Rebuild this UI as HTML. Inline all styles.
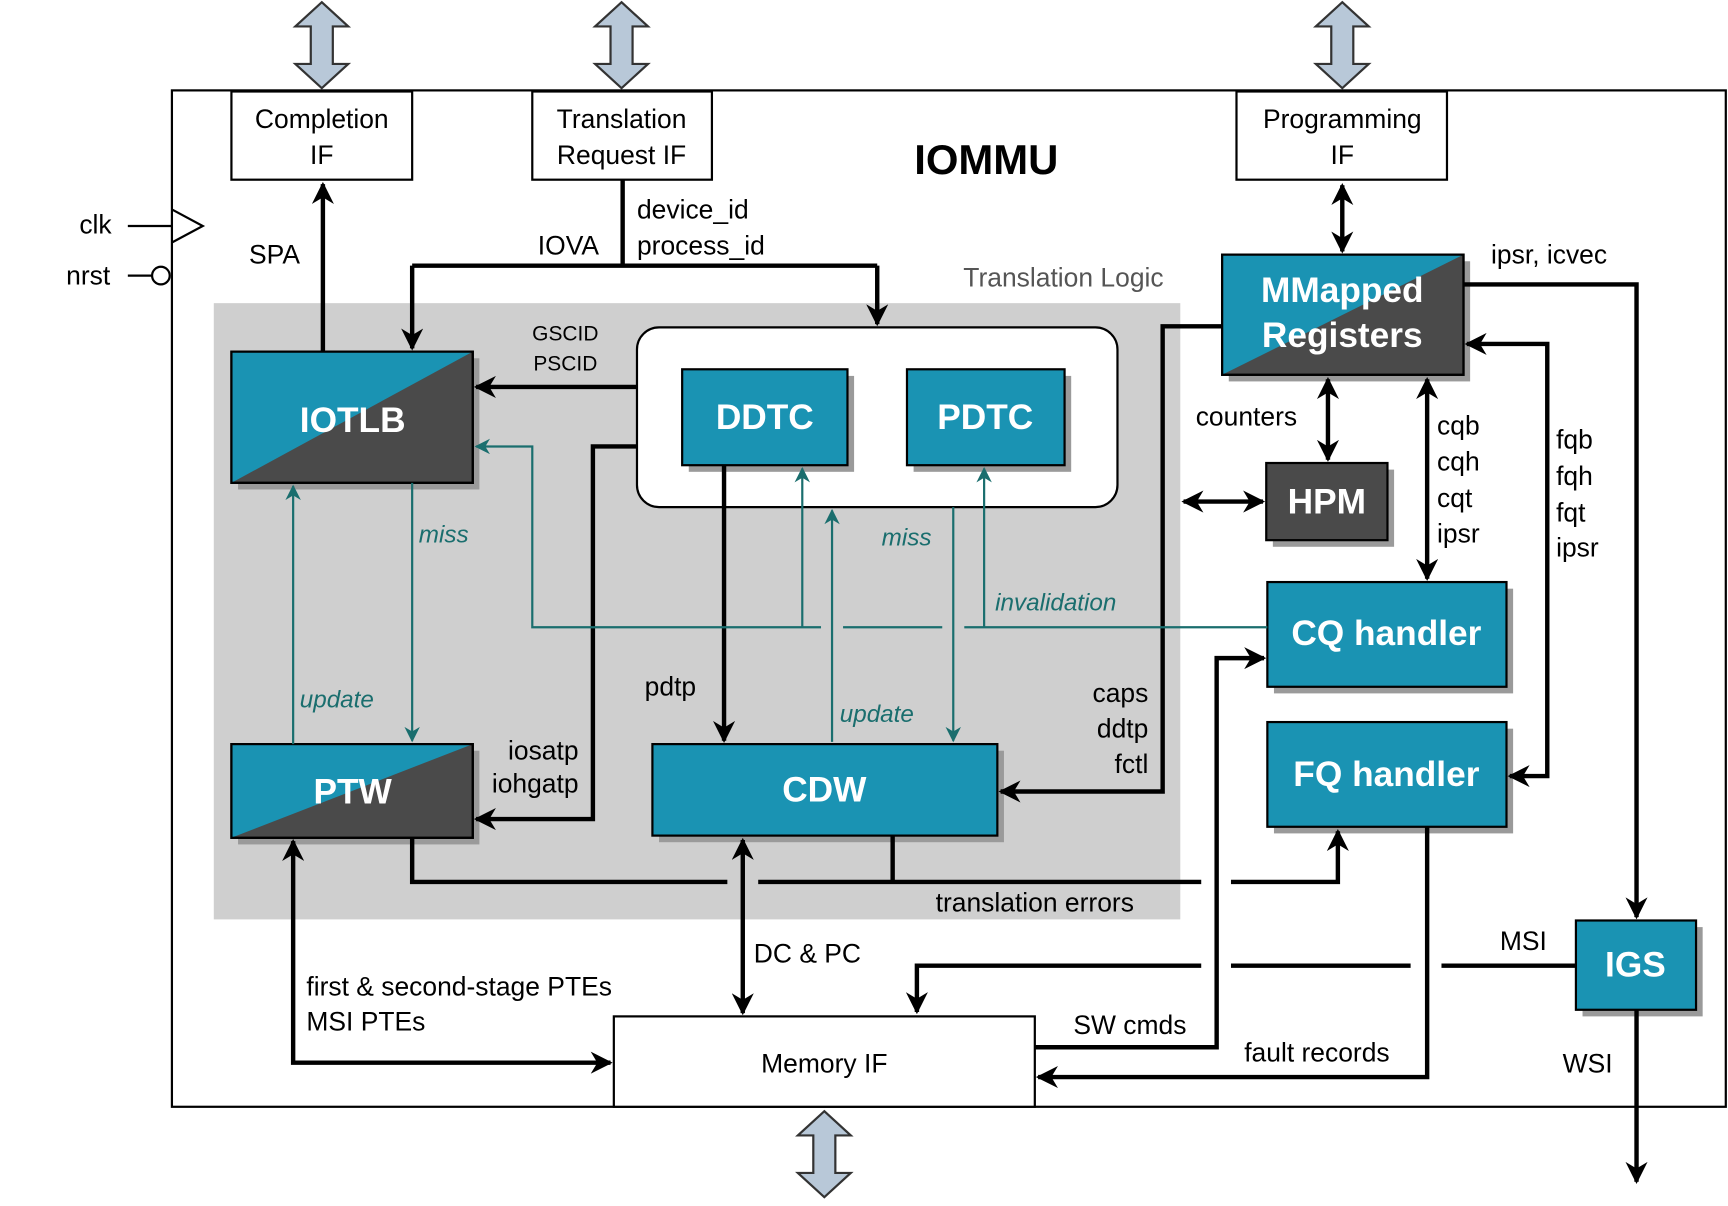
<!DOCTYPE html>
<html><head><meta charset="utf-8"><style>
html,body{margin:0;padding:0;background:#fff;}
svg{display:block;}
text{font-family:"Liberation Sans",sans-serif;}
</style></head><body>
<svg width="1728" height="1206" viewBox="0 0 1568 1094" preserveAspectRatio="none" xmlns="http://www.w3.org/2000/svg">
<defs>
<marker id="ab" viewBox="0 0 10 10" refX="9" refY="5" markerWidth="5" markerHeight="5" orient="auto-start-reverse"><path d="M0,0 L10,5 L0,10 L3,5 z" fill="#000"/></marker>
<marker id="at" viewBox="0 0 10 10" refX="9" refY="5" markerWidth="7" markerHeight="7" orient="auto-start-reverse"><path d="M0,0 L10,5 L0,10 L3,5 z" fill="#1a6e6e"/></marker>
</defs>
<!-- outer -->
<rect x="156" y="82" width="1410" height="922" fill="#fff" stroke="#000" stroke-width="2"/>
<rect x="194" y="275" width="877" height="559" fill="#cfcfcf"/>
<text x="965" y="260" font-size="24" fill="#555" text-anchor="middle">Translation Logic</text>
<text x="895" y="158" font-size="38" font-weight="bold" text-anchor="middle">IOMMU</text>

<!-- big double arrows -->
<g fill="#b8c8d8" stroke="#333" stroke-width="2">
<path d="M292,2 L316,24 L302,24 L302,58 L316,58 L292,80 L268,58 L282,58 L282,24 L268,24 Z"/>
<path d="M564,2 L588,24 L574,24 L574,58 L588,58 L564,80 L540,58 L554,58 L554,24 L540,24 Z"/>
<path d="M1218,2 L1242,24 L1228,24 L1228,58 L1242,58 L1218,80 L1194,58 L1208,58 L1208,24 L1194,24 Z"/>
<path d="M748,1008 L772,1030 L758,1030 L758,1064 L772,1064 L748,1086 L724,1064 L738,1064 L738,1030 L724,1030 Z"/>
</g>

<!-- IF boxes -->
<g fill="#fff" stroke="#000" stroke-width="2">
<rect x="210" y="83" width="164" height="80"/>
<rect x="483" y="83" width="163" height="80"/>
<rect x="1122" y="83" width="191" height="80"/>
<rect x="557" y="922" width="382" height="82"/>
</g>
<g font-size="24" text-anchor="middle">
<text x="292" y="116">Completion</text><text x="292" y="149">IF</text>
<text x="564" y="116">Translation</text><text x="564" y="149">Request IF</text>
<text x="1218" y="116">Programming</text><text x="1218" y="149">IF</text>
<text x="748" y="973">Memory IF</text>
</g>

<!-- clk nrst -->
<text x="72" y="212" font-size="24">clk</text>
<line x1="116" y1="205" x2="156" y2="205" stroke="#000" stroke-width="2"/>
<path d="M156,190 L184,205 L156,220" fill="none" stroke="#000" stroke-width="2"/>
<text x="60" y="258" font-size="24">nrst</text>
<line x1="116" y1="250" x2="138" y2="250" stroke="#000" stroke-width="2"/>
<circle cx="146" cy="250" r="8" fill="#fff" stroke="#000" stroke-width="2"/>

<!-- translation cache box -->
<rect x="578" y="297" width="436" height="163" rx="20" fill="#fff" stroke="#000" stroke-width="2"/>

<!-- shadows -->
<g fill="#9a9a9a">
<rect x="625" y="341" width="150" height="87"/>
<rect x="829" y="341" width="143" height="87"/>
<rect x="216" y="325" width="219" height="119"/>
<rect x="216" y="681" width="219" height="85"/>
<rect x="1115" y="237" width="219" height="109"/>
<rect x="1155" y="426" width="110" height="70"/>
<rect x="1156" y="534" width="217" height="95"/>
<rect x="1156" y="661" width="217" height="95"/>
<rect x="598" y="681" width="313" height="83"/>
<rect x="1436" y="841" width="109" height="81"/>
</g>
<!-- teal boxes -->
<g fill="#1a93b3" stroke="#000" stroke-width="2">
<rect x="619" y="335" width="150" height="87"/>
<rect x="823" y="335" width="143" height="87"/>
<rect x="1150" y="528" width="217" height="95"/>
<rect x="1150" y="655" width="217" height="95"/>
<rect x="592" y="675" width="313" height="83"/>
<rect x="1430" y="835" width="109" height="81"/>
</g>
<rect x="1149" y="420" width="110" height="70" fill="#4a4a4a" stroke="#000" stroke-width="2"/>
<!-- split boxes -->
<g stroke="#000" stroke-width="2">
<rect x="210" y="319" width="219" height="119" fill="#4a4a4a"/>
<path d="M210,319 L429,319 L210,438 Z" fill="#1a93b3" stroke="none"/>
<rect x="210" y="319" width="219" height="119" fill="none"/>
<rect x="210" y="675" width="219" height="85" fill="#4a4a4a"/>
<path d="M210,675 L429,675 L210,760 Z" fill="#1a93b3" stroke="none"/>
<rect x="210" y="675" width="219" height="85" fill="none"/>
<rect x="1109" y="231" width="219" height="109" fill="#4a4a4a"/>
<path d="M1109,231 L1328,231 L1109,340 Z" fill="#1a93b3" stroke="none"/>
<rect x="1109" y="231" width="219" height="109" fill="none"/>
</g>
<g font-size="32" font-weight="bold" fill="#fff" text-anchor="middle">
<text x="694" y="389">DDTC</text>
<text x="894" y="389">PDTC</text>
<text x="320" y="392">IOTLB</text>
<text x="320" y="729">PTW</text>
<text x="1218" y="274">MMapped</text>
<text x="1218" y="315">Registers</text>
<text x="1204" y="466">HPM</text>
<text x="1258" y="585">CQ handler</text>
<text x="1258" y="713">FQ handler</text>
<text x="748" y="727">CDW</text>
<text x="1484" y="886">IGS</text>
</g>

<!-- black connectors -->
<g fill="none" stroke="#000" stroke-width="4">
<path d="M293,319 L293,167" marker-end="url(#ab)"/>
<path d="M565,163 L565,241"/>
<path d="M374,241 L796,241"/>
<path d="M374,241 L374,316" marker-end="url(#ab)"/>
<path d="M796,241 L796,294" marker-end="url(#ab)"/>
<path d="M578,351 L432,351" marker-end="url(#ab)"/>
<path d="M578,405 L538,405 L538,743 L432,743" marker-end="url(#ab)"/>
<path d="M657,422 L657,672" marker-end="url(#ab)"/>
<path d="M1109,296 L1055,296 L1055,718 L908,718" marker-end="url(#ab)"/>
<path d="M1218,168 L1218,228" marker-start="url(#ab)" marker-end="url(#ab)"/>
<path d="M1205,344 L1205,417" marker-start="url(#ab)" marker-end="url(#ab)"/>
<path d="M1074,455 L1146,455" marker-start="url(#ab)" marker-end="url(#ab)"/>
<path d="M1295,344 L1295,525" marker-start="url(#ab)" marker-end="url(#ab)"/>
<path d="M1331,312 L1404,312 L1404,704 L1370,704" marker-start="url(#ab)" marker-end="url(#ab)"/>
<path d="M1328,258 L1485,258 L1485,832" marker-end="url(#ab)"/>
<path d="M1485,916 L1485,1072" marker-end="url(#ab)"/>
<path d="M1430,876 L1308,876 M1280,876 L1117,876 M1090,876 L832,876 L832,918" marker-end="url(#ab)"/>
<path d="M374,760 L374,800 L660,800 M688,800 L1090,800 M1117,800 L1214,800 L1214,754" marker-end="url(#ab)"/>
<path d="M810,758 L810,800"/>
<path d="M674,762 L674,919" marker-start="url(#ab)" marker-end="url(#ab)"/>
<path d="M266,763 L266,964 L554,964" marker-start="url(#ab)" marker-end="url(#ab)"/>
<path d="M939,950 L1104,950 L1104,597 L1147,597" marker-end="url(#ab)"/>
<path d="M1295,750 L1295,977 L942,977" marker-end="url(#ab)"/>
</g>

<!-- teal connectors -->
<g fill="none" stroke="#1a6e6e" stroke-width="2">
<path d="M374,438 L374,672" marker-end="url(#at)"/>
<path d="M266,675 L266,441" marker-end="url(#at)"/>
<path d="M1150,569 L875,569 M855,569 L765,569 M745,569 L483,569 L483,405 L432,405" marker-end="url(#at)"/>
<path d="M728,569 L728,425" marker-end="url(#at)"/>
<path d="M893,569 L893,425" marker-end="url(#at)"/>
<path d="M865,460 L865,672" marker-end="url(#at)"/>
<path d="M755,673 L755,463" marker-end="url(#at)"/>
</g>
<g font-size="22" font-style="italic" fill="#1a6e6e">
<text x="380" y="492">miss</text>
<text x="272" y="642">update</text>
<text x="800" y="495">miss</text>
<text x="762" y="655">update</text>
<text x="903" y="554">invalidation</text>
</g>

<!-- labels -->
<g font-size="24">
<text x="226" y="239">SPA</text>
<text x="488" y="231">IOVA</text>
<text x="578" y="198">device_id</text>
<text x="578" y="231">process_id</text>
<text x="585" y="631">pdtp</text>
<text x="1085" y="386">counters</text>
<text x="1353" y="239">ipsr, icvec</text>
<text x="1304" y="394">cqb</text><text x="1304" y="427">cqh</text><text x="1304" y="460">cqt</text><text x="1304" y="492">ipsr</text>
<text x="1412" y="407">fqb</text><text x="1412" y="440">fqh</text><text x="1412" y="473">fqt</text><text x="1412" y="505">ipsr</text>
<text x="1042" y="637" text-anchor="end">caps</text>
<text x="1042" y="669" text-anchor="end">ddtp</text>
<text x="1042" y="701" text-anchor="end">fctl</text>
<text x="525" y="689" text-anchor="end">iosatp</text>
<text x="525" y="719" text-anchor="end">iohgatp</text>
<text x="849" y="827">translation errors</text>
<text x="684" y="873">DC &amp; PC</text>
<text x="278" y="903">first &amp; second-stage PTEs</text>
<text x="278" y="935">MSI PTEs</text>
<text x="974" y="938">SW cmds</text>
<text x="1129" y="963">fault records</text>
<text x="1361" y="862">MSI</text>
<text x="1418" y="973">WSI</text>
</g>
<g font-size="19" text-anchor="middle">
<text x="513" y="309">GSCID</text>
<text x="513" y="336">PSCID</text>
</g>
</svg>
</body></html>
